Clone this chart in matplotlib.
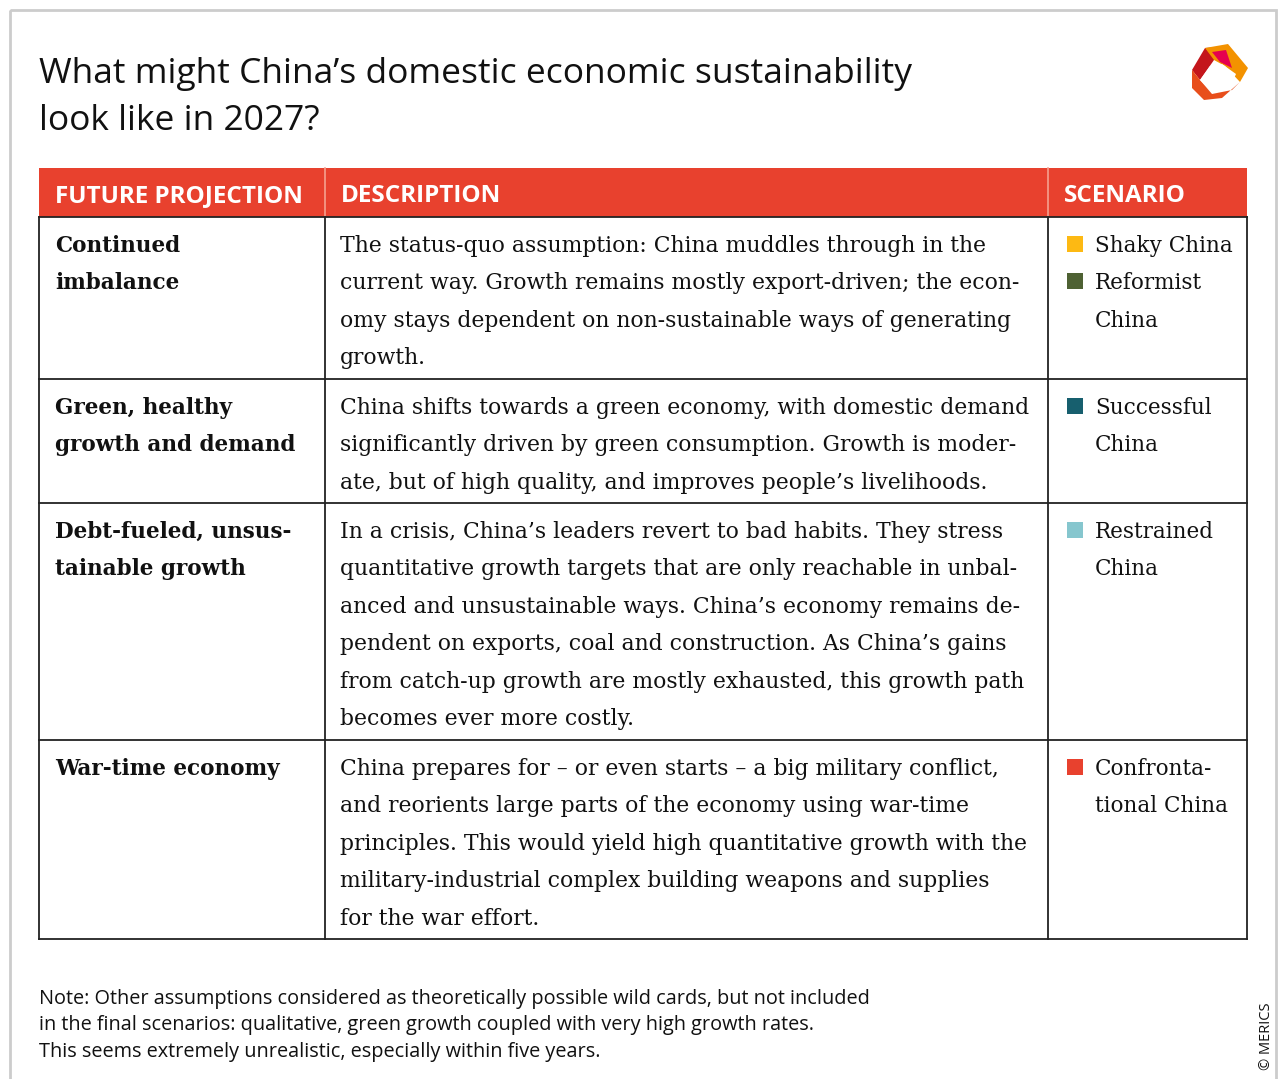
import matplotlib
matplotlib.use("Agg")
import matplotlib.pyplot as plt
from matplotlib.patches import Rectangle, Polygon

title_lines = ["What might China’s domestic economic sustainability",
               "look like in 2027?"]
headers = ["FUTURE PROJECTION", "DESCRIPTION", "SCENARIO"]

projections = [
    ["Continued", "imbalance"],
    ["Green, healthy", "growth and demand"],
    ["Debt-fueled, unsus-", "tainable growth"],
    ["War-time economy"],
]

descriptions = [
    ["The status-quo assumption: China muddles through in the",
     "current way. Growth remains mostly export-driven; the econ-",
     "omy stays dependent on non-sustainable ways of generating",
     "growth."],
    ["China shifts towards a green economy, with domestic demand",
     "significantly driven by green consumption. Growth is moder-",
     "ate, but of high quality, and improves people’s livelihoods."],
    ["In a crisis, China’s leaders revert to bad habits. They stress",
     "quantitative growth targets that are only reachable in unbal-",
     "anced and unsustainable ways. China’s economy remains de-",
     "pendent on exports, coal and construction. As China’s gains",
     "from catch-up growth are mostly exhausted, this growth path",
     "becomes ever more costly."],
    ["China prepares for – or even starts – a big military conflict,",
     "and reorients large parts of the economy using war-time",
     "principles. This would yield high quantitative growth with the",
     "military-industrial complex building weapons and supplies",
     "for the war effort."],
]

# scenarios per row: (label lines, colour)
scenarios = [
    [(["Shaky China"], "#FDB913"), (["Reformist", "China"], "#4E6133")],
    [(["Successful", "China"], "#175F6E")],
    [(["Restrained", "China"], "#86C6CE")],
    [(["Confronta-", "tional China"], "#E8412E")],
]

note_lines = [
    "Note: Other assumptions considered as theoretically possible wild cards, but not included",
    "in the final scenarios: qualitative, green growth coupled with very high growth rates.",
    "This seems extremely unrealistic, especially within five years.",
]

RED = "#E8412E"
INK = "#111111"

# table geometry (pixels)
col_x = [39, 325, 1048, 1247]
row_y = [168, 217, 379, 503, 740, 939]
line_h = 37.4

fig = plt.figure(figsize=(12.84, 10.79), dpi=100)
ax = fig.add_axes([0, 0, 1, 1])
ax.set_xlim(0, 1284)
ax.set_ylim(1079, 0)
ax.axis("off")

# outer frame
ax.add_patch(Rectangle((9.5, 9.5), 1266, 1100, fill=False, ec="#cccccc", lw=2))

# title
for i, t in enumerate(title_lines):
    ax.text(39, 83 + i * 47, t, fontsize=25.5, family="Open Sans", color=INK,
            va="baseline", ha="left")

# logo
ax.add_patch(Polygon([(1192, 70), (1205, 48), (1230, 46), (1214, 60), (1200, 80)],
                     closed=True, fc="#C4161C", ec="none"))
ax.add_patch(Polygon([(1205, 48), (1228, 44), (1248, 68), (1240, 82), (1225, 66), (1214, 60)],
                     closed=True, fc="#F39200", ec="none"))
ax.add_patch(Polygon([(1212, 52), (1226, 50), (1232, 68), (1220, 62)],
                     closed=True, fc="#E5004F", ec="none"))
ax.add_patch(Polygon([(1192, 70), (1200, 80), (1212, 94), (1232, 90), (1240, 82),
                      (1222, 98), (1204, 100), (1192, 88)],
                     closed=True, fc="#E84E1B", ec="none"))
ax.add_patch(Polygon([(1200, 80), (1210, 66), (1222, 64), (1236, 74), (1230, 88), (1212, 92)],
                     closed=True, fc="white", ec="none"))

# header band
ax.add_patch(Rectangle((col_x[0], row_y[0]), col_x[-1] - col_x[0], row_y[1] - row_y[0],
                       fc=RED, ec="none"))
for j, h in enumerate(headers):
    ax.text(col_x[j] + 16, 202, h, fontsize=17.5, family="Open Sans", weight="bold",
            color="white", va="baseline", ha="left")
for x in col_x[1:-1]:
    ax.plot([x, x], [row_y[0], row_y[1]], color="#f5a08f", lw=1.2)

# grid lines
lc = "#222222"
for y in row_y[1:]:
    ax.plot([col_x[0], col_x[-1]], [y, y], color=lc, lw=1.3)
for x in col_x:
    ax.plot([x, x], [row_y[1], row_y[-1]], color=lc, lw=1.3)

# cell text
for r in range(len(projections)):
    base = row_y[r + 1] + 35
    for k, t in enumerate(projections[r]):
        ax.text(col_x[0] + 16, base + k * line_h, t, fontsize=15.5, family="DejaVu Serif",
                weight="bold", color=INK, va="baseline", ha="left")
    for k, t in enumerate(descriptions[r]):
        ax.text(col_x[1] + 15, base + k * line_h, t, fontsize=15.75, family="DejaVu Serif",
                color=INK, va="baseline", ha="left")
    k = 0
    for labels, col in scenarios[r]:
        ax.add_patch(Rectangle((1067, base + k * line_h - 16), 16, 16, fc=col, ec="none"))
        for t in labels:
            ax.text(1095, base + k * line_h, t, fontsize=15.5, family="DejaVu Serif",
                    color=INK, va="baseline", ha="left")
            k += 1

# note
for i, t in enumerate(note_lines):
    ax.text(39, 1004 + i * 26.3, t, fontsize=14.35, family="Open Sans", color=INK,
            va="baseline", ha="left")

ax.text(1266, 1070, "© MERICS", fontsize=10.5, family="Open Sans", color=INK,
        rotation=90, va="bottom", ha="center")

fig.savefig("out.png", dpi=100)
